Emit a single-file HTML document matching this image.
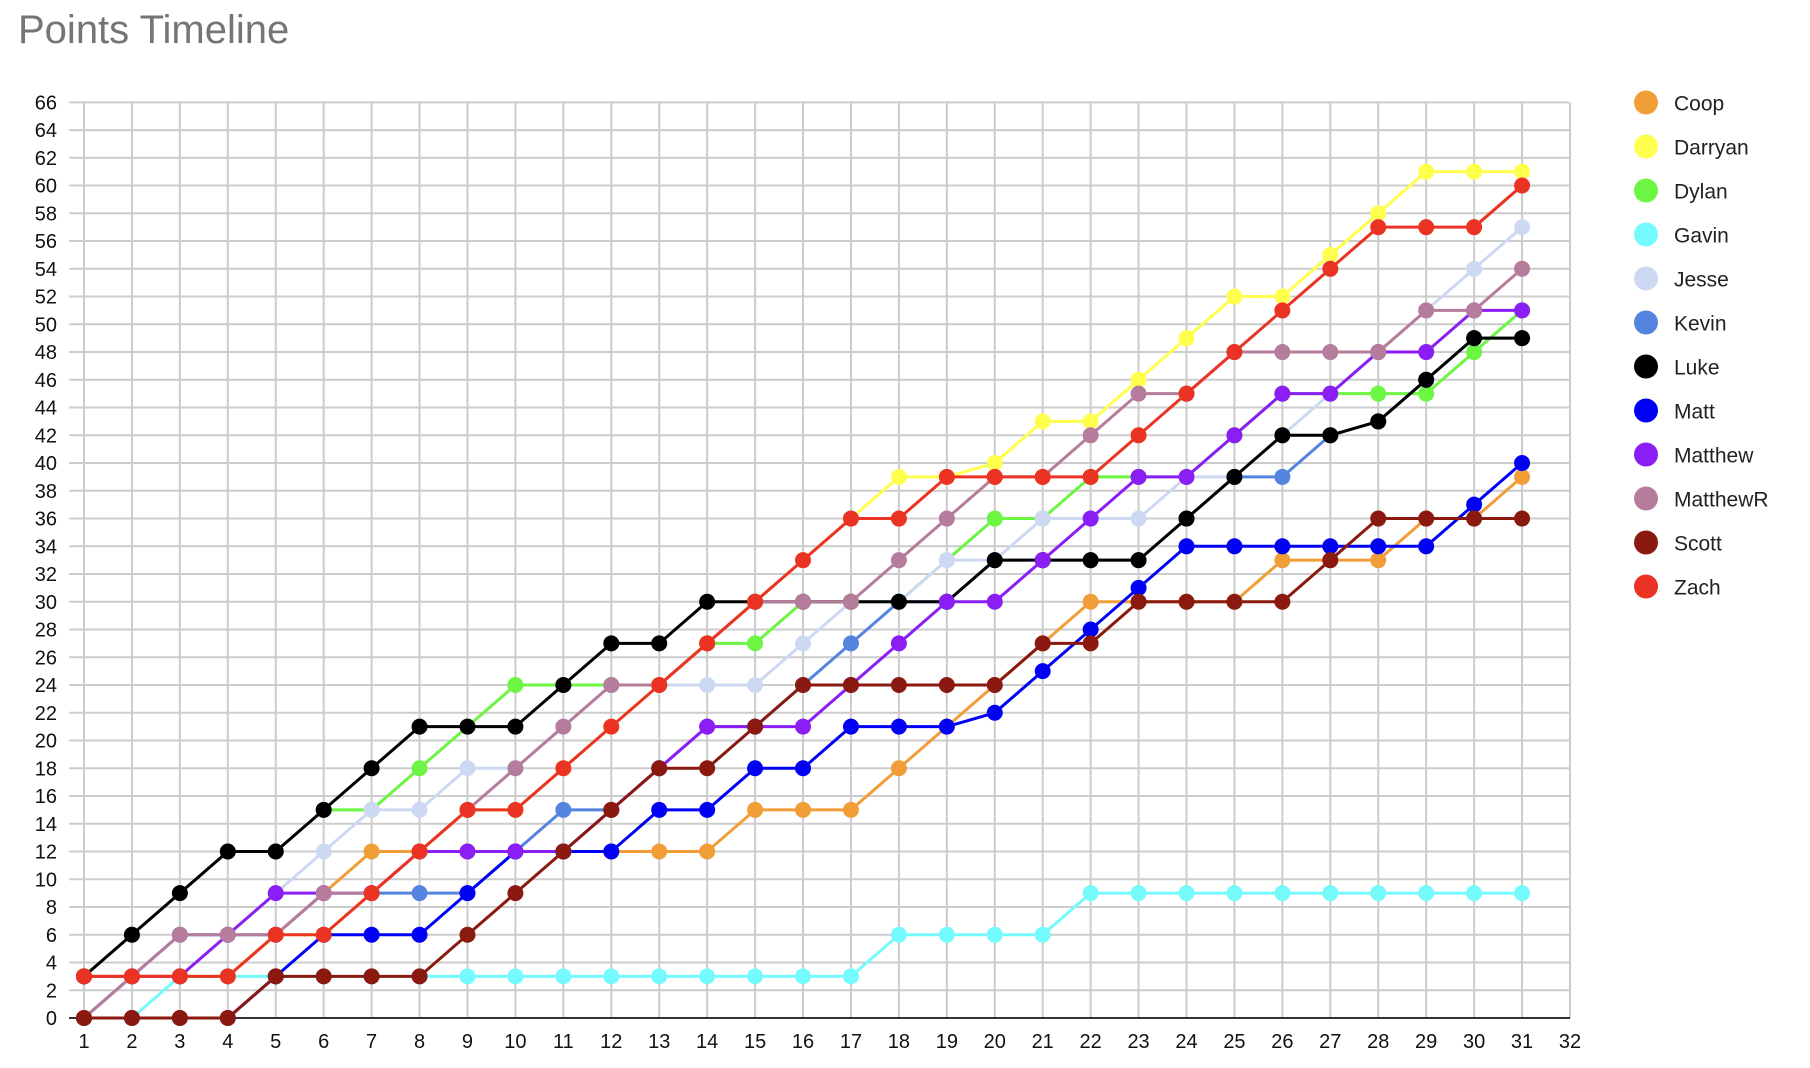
<!DOCTYPE html>
<html><head><meta charset="utf-8"><style>
body{margin:0;background:#fff;}
svg{display:block;font-family:"Liberation Sans",Arial,sans-serif;}
</style></head><body>
<svg id="s" width="1810" height="1068" xmlns="http://www.w3.org/2000/svg">
<text x="18" y="43" font-size="40" fill="#757575">Points Timeline</text>
</svg>
<script>
const s=document.getElementById('s');const NS='http://www.w3.org/2000/svg';
function el(t,a,txt){const e=document.createElementNS(NS,t);for(const k in a)e.setAttribute(k,a[k]);if(txt!==undefined)e.textContent=txt;s.appendChild(e);return e;}
const X=i=>84+(i-1)*47.935, Y=v=>1018-v*13.874;
for(let v=0;v<=66;v+=2){el('line',{x1:69,x2:1569,y1:Y(v),y2:Y(v),stroke:'#cccccc','stroke-width':2});
el('text',{x:57,y:Y(v)+7,'font-size':20,'text-anchor':'end',fill:'#111'},v);}
for(let i=1;i<=32;i++){el('line',{x1:X(i),x2:X(i),y1:Y(66),y2:1018,stroke:'#cccccc','stroke-width':2});
el('text',{x:X(i),y:1048,'font-size':20,'text-anchor':'middle',fill:'#111'},i);}
el('line',{x1:69,x2:1570,y1:1018,y2:1018,stroke:'#333','stroke-width':2});
const D=[
['Coop','#f19e38',[0,3,3,3,6,9,12,12,12,12,12,12,12,12,15,15,15,18,21,24,27,30,30,30,30,33,33,33,36,36,39]],
['Darryan','#ffff4d',[3,3,3,3,6,6,9,12,15,15,18,21,24,27,30,33,36,39,39,40,43,43,46,49,52,52,55,58,61,61,61]],
['Dylan','#6cf542',[3,6,9,12,12,15,15,18,21,24,24,24,24,27,27,30,30,30,33,36,36,39,39,39,42,45,45,45,45,48,51]],
['Gavin','#75fbfd',[0,0,3,3,3,3,3,3,3,3,3,3,3,3,3,3,3,6,6,6,6,9,9,9,9,9,9,9,9,9,9]],
['Jesse','#cdd9f3',[0,3,6,6,9,12,15,15,18,18,21,24,24,24,24,27,30,30,33,33,36,36,36,39,39,42,45,48,51,54,57]],
['Kevin','#5584e0',[0,3,6,6,6,9,9,9,9,12,15,15,18,21,21,24,27,30,30,33,33,33,33,36,39,39,42,43,46,49,49]],
['Luke','#000000',[3,6,9,12,12,15,18,21,21,21,24,27,27,30,30,30,30,30,30,33,33,33,33,36,39,42,42,43,46,49,49]],
['Matt','#0000f5',[0,0,0,0,3,6,6,6,9,12,12,12,15,15,18,18,21,21,21,22,25,28,31,34,34,34,34,34,34,37,40]],
['Matthew','#8b1ef5',[3,3,3,6,9,9,9,12,12,12,12,15,18,21,21,21,24,27,30,30,33,36,39,39,42,45,45,48,48,51,51]],
['MatthewR','#b57c9c',[0,3,6,6,6,9,9,12,15,18,21,24,24,27,30,30,30,33,36,39,39,42,45,45,48,48,48,48,51,51,54]],
['Scott','#8a1a10',[0,0,0,0,3,3,3,3,6,9,12,15,18,18,21,24,24,24,24,24,27,27,30,30,30,30,33,36,36,36,36]],
['Zach','#ea3323',[3,3,3,3,6,6,9,12,15,15,18,21,24,27,30,33,36,36,39,39,39,39,42,45,48,51,54,57,57,57,60]]];
D.forEach((d,k)=>{
 el('polyline',{points:d[2].map((v,i)=>X(i+1)+','+Y(v)).join(' '),fill:'none',stroke:d[1],'stroke-width':3,'stroke-linejoin':'round'});
 d[2].forEach((v,i)=>el('circle',{cx:X(i+1),cy:Y(v),r:8,fill:d[1]}));
 el('circle',{cx:1646,cy:102.5+k*44,r:12,fill:d[1]});
 el('text',{x:1674,y:102.5+k*44+8,'font-size':21,fill:'#222'},d[0]);
});
</script>
</body></html>
